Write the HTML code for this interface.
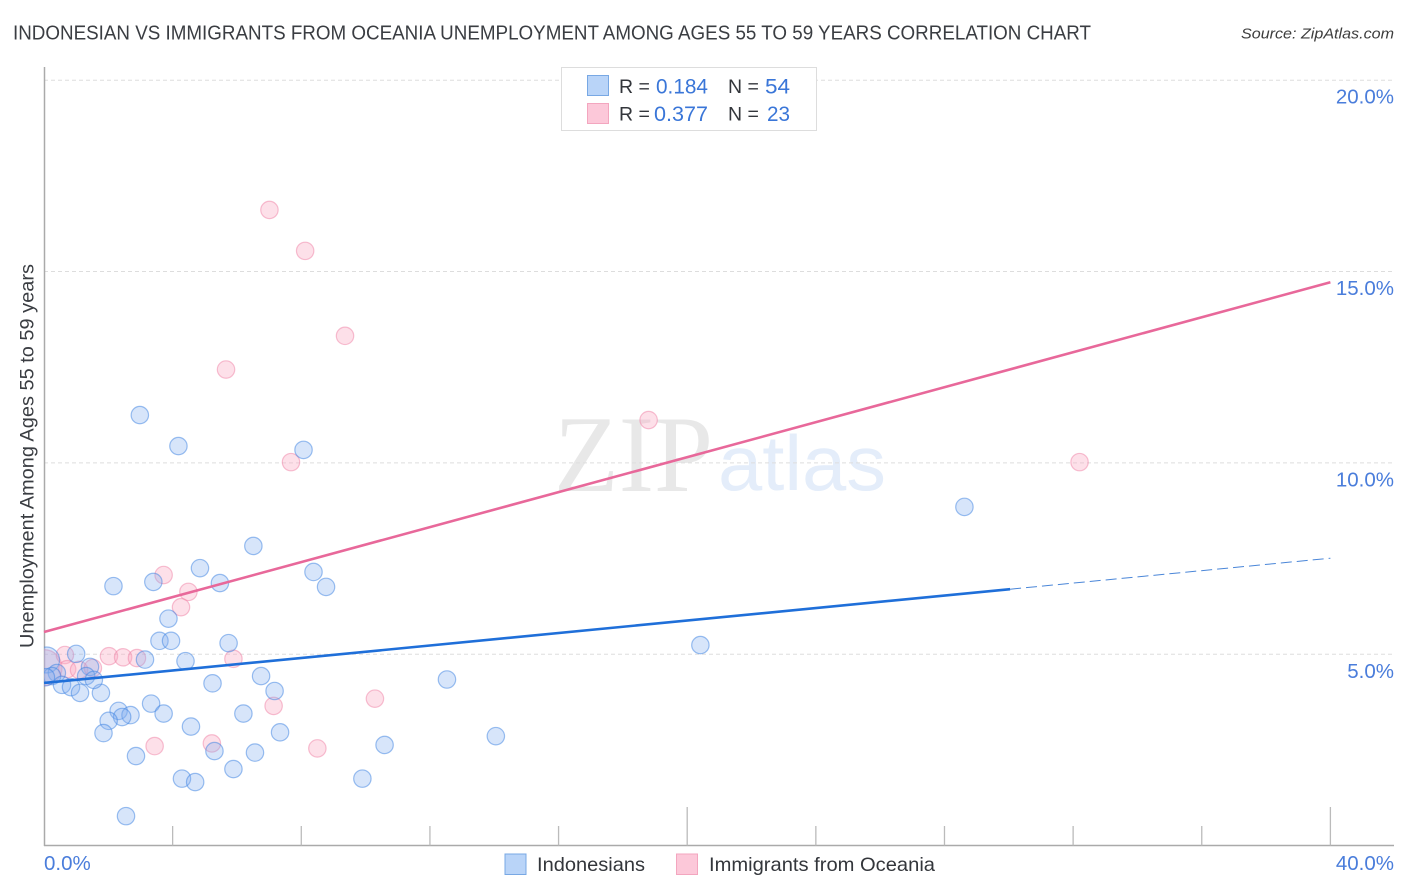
<!DOCTYPE html>
<html lang="en">
<head>
<meta charset="utf-8">
<title>Indonesian vs Immigrants from Oceania Unemployment Correlation Chart</title>
<style>
html,body{margin:0;padding:0;background:#fff;}
svg{display:block;font-family:"Liberation Sans",sans-serif;}
</style>
</head>
<body>
<svg id="chart" xmlns="http://www.w3.org/2000/svg" width="1406" height="892" viewBox="0 0 1406 892">
  <rect x="0" y="0" width="1406" height="892" fill="#ffffff"/>
  <text x="13" y="39.5" font-size="20" fill="#3a3d42" textLength="1078" lengthAdjust="spacingAndGlyphs">INDONESIAN VS IMMIGRANTS FROM OCEANIA UNEMPLOYMENT AMONG AGES 55 TO 59 YEARS CORRELATION CHART</text>
  <text x="1241" y="38.5" font-size="15" font-style="italic" fill="#3d3d3d" textLength="153" lengthAdjust="spacingAndGlyphs">Source: ZipAtlas.com</text>
  <g id="watermark">
    <text x="554" y="491" font-family="'Liberation Serif',serif" font-size="109" fill="#e8e8e8" textLength="159" lengthAdjust="spacingAndGlyphs">ZIP</text>
    <text x="718" y="490" font-size="78" fill="#e4edfa" textLength="168" lengthAdjust="spacingAndGlyphs">atlas</text>
  </g>
  <g id="grid"></g>
  <g id="axes"></g>
  <g id="pink-points"></g>
  <g id="blue-points"></g>
  <g id="trends"></g>
  <text transform="translate(33.5,648) rotate(-90)" x="0" y="0" font-size="19" fill="#3a3d42" textLength="384" lengthAdjust="spacingAndGlyphs">Unemployment Among Ages 55 to 59 years</text>

  <g>
    <rect x="561.5" y="67.5" width="255" height="63" fill="#ffffff" stroke="#dddddd" stroke-width="1"/>
    <rect x="587.5" y="75.5" width="21" height="20" fill="#b9d4f8" stroke="#78a8e4" stroke-width="1"/>
    <rect x="587.5" y="103.5" width="21" height="20" fill="#fcc8d9" stroke="#f3a6bf" stroke-width="1"/>
    <text x="619" y="93" font-size="19.5" fill="#33363b">R =</text>
    <text x="656" y="93.5" font-size="21" fill="#3a76d8" textLength="52" lengthAdjust="spacingAndGlyphs">0.184</text>
    <text x="728" y="93" font-size="19.5" fill="#33363b">N =</text>
    <text x="765" y="93.5" font-size="21" fill="#3a76d8" textLength="25" lengthAdjust="spacingAndGlyphs">54</text>
    <text x="619" y="120.5" font-size="19.5" fill="#33363b">R =</text>
    <text x="654" y="121" font-size="21" fill="#3a76d8" textLength="54" lengthAdjust="spacingAndGlyphs">0.377</text>
    <text x="728" y="120.5" font-size="19.5" fill="#33363b">N =</text>
    <text x="767" y="121" font-size="21" fill="#3a76d8" textLength="23" lengthAdjust="spacingAndGlyphs">23</text>
  </g>

  <g>
    <rect x="505" y="854" width="21" height="20.5" fill="#b9d4f8" stroke="#78a8e4" stroke-width="1"/>
    <text x="537" y="871" font-size="19.5" fill="#33363b" textLength="108" lengthAdjust="spacingAndGlyphs">Indonesians</text>
    <rect x="676.5" y="854" width="21" height="20.5" fill="#fcc8d9" stroke="#f3a6bf" stroke-width="1"/>
    <text x="709" y="871" font-size="19.5" fill="#33363b" textLength="226" lengthAdjust="spacingAndGlyphs">Immigrants from Oceania</text>
  </g>
</svg>
<script>
// Chart data (x: percent Indonesian/immigrant share axis, y: unemployment percent)
var yTickValues = [5, 10, 15, 20];
var yTickLabels = ['5.0%', '10.0%', '15.0%', '20.0%'];
var xTickValues = [0, 4, 8, 12, 16, 20, 24, 28, 32, 36, 40];
var xMajorTicks = [20, 40];
var xEndValues = [0, 40];
var xEndLabels = ['0.0%', '40.0%'];

var indonesiansX = [2.98,4.18,8.07,28.62,6.51,4.85,2.16,3.40,5.47,8.38,8.77,3.87,3.59,3.95,5.74,20.41,3.14,4.40,1.00,1.43,6.75,5.24,12.53,7.17,3.33,3.72,2.32,2.69,2.43,2.01,6.20,4.57,1.85,7.34,10.59,14.05,2.86,5.30,6.56,5.89,4.29,4.70,9.90,2.55,0.40,0.25,0.56,0.84,1.12,1.77,1.31,1.55,0.06];
var indonesiansY = [11.25,10.44,10.34,8.85,7.83,7.25,6.78,6.89,6.86,7.15,6.76,5.93,5.35,5.35,5.29,5.24,4.86,4.82,5.01,4.67,4.43,4.24,4.34,4.04,3.71,3.45,3.52,3.41,3.36,3.26,3.45,3.11,2.94,2.96,2.63,2.86,2.34,2.47,2.43,2.00,1.75,1.66,1.75,0.77,4.51,4.43,4.20,4.14,3.99,3.99,4.43,4.33,4.40];
var oceaniaX = [7.01,8.12,9.36,5.66,7.68,18.80,32.20,3.72,4.49,4.26,5.89,2.02,2.46,2.89,0.65,0.72,1.09,1.52,10.29,7.14,3.44,5.22,8.50];
var oceaniaY = [16.61,15.54,13.32,12.44,10.02,11.12,10.02,7.07,6.63,6.23,4.88,4.95,4.92,4.90,4.98,4.61,4.59,4.64,3.84,3.65,2.60,2.67,2.54];
var indonesiansClusterX = [0.08];
var indonesiansClusterY = [4.85];
var oceaniaClusterX = [0.0];
var oceaniaClusterY = [4.65];

var indonesiansTrendSolidX = [0, 30.04];
var indonesiansTrendSolidY = [4.25, 6.70];
var indonesiansTrendDashX = [30.04, 40];
var indonesiansTrendDashY = [6.70, 7.51];
var oceaniaTrendX = [0, 40];
var oceaniaTrendY = [5.58, 14.72];

function xScale(v) { return 44 + v * 32.16; }
function yScale(v) { return 845.6 - v * 38.27; }

var NS = 'http://www.w3.org/2000/svg';
function make(tag, parentId, attrs) {
  var el = document.createElementNS(NS, tag);
  for (var k in attrs) { el.setAttribute(k, attrs[k]); }
  document.getElementById(parentId).appendChild(el);
  return el;
}

// gridlines + y tick labels
yTickValues.forEach(function (v, i) {
  var line = make('line', 'grid', { x1: 44, x2: 1394, y1: yScale(v), y2: yScale(v), stroke: '#dddddd', 'stroke-width': 1, 'stroke-dasharray': '4 3' });
  
  
  var t = make('text', 'axes', { x: 1394, y: yScale(v) + 23.5, 'text-anchor': 'end', 'font-size': 20.5, fill: '#4a7ddb' });
  t.textContent = yTickLabels[i];
  
  
});

// axes lines
var yAxis = make('line', 'axes', { x1: 44.5, x2: 44.5, y1: 67, y2: 846, stroke: '#aaaaaa', 'stroke-width': 1.5 });


var xAxis = make('line', 'axes', { x1: 44, x2: 1394, y1: 845.5, y2: 845.5, stroke: '#aaaaaa', 'stroke-width': 1.5 });



// x ticks
xTickValues.forEach(function (v) {
  if (v === 0) { return; }
  var major = xMajorTicks.indexOf(v) >= 0;
  var tick = make('line', 'axes', { x1: xScale(v), x2: xScale(v), y1: major ? 807 : 826, y2: 845.5, stroke: '#bbbbbb', 'stroke-width': 1.3 });
  
  
});

// x end labels
xEndValues.forEach(function (v, i) {
  var t = make('text', 'axes', { x: i === 0 ? xScale(v) : 1394, y: 870, 'text-anchor': i === 0 ? 'start' : 'end', 'font-size': 20.5, fill: '#4a7ddb' });
  t.textContent = xEndLabels[i];
  
  
});

// clip region so the big near-axis bubbles stop at the y axis
var defs = document.createElementNS(NS, 'defs');
var clip = document.createElementNS(NS, 'clipPath');
clip.setAttribute('id', 'plot-clip');
var clipRect = document.createElementNS(NS, 'rect');
clipRect.setAttribute('x', 44);
clipRect.setAttribute('y', 60);
clipRect.setAttribute('width', 1350);
clipRect.setAttribute('height', 786);
clip.appendChild(clipRect);
defs.appendChild(clip);
document.getElementById('chart').insertBefore(defs, document.getElementById('chart').firstChild);
document.getElementById('pink-points').setAttribute('clip-path', 'url(#plot-clip)');
document.getElementById('blue-points').setAttribute('clip-path', 'url(#plot-clip)');

var pinkStyle = { fill: 'rgba(250,170,195,0.36)', stroke: 'rgba(240,130,165,0.5)', 'stroke-width': 1.2 };
var blueStyle = { fill: 'rgba(130,175,240,0.32)', stroke: 'rgba(60,130,225,0.5)', 'stroke-width': 1.2 };

function attrsFor(style, cx, cy, r) {
  var a = { cx: cx, cy: cy, r: r };
  for (var k in style) { a[k] = style[k]; }
  return a;
}

oceaniaClusterX.forEach(function (v, i) {
  var c = make('circle', 'pink-points', attrsFor(pinkStyle, xScale(v), yScale(oceaniaClusterY[i]), 18));
  
  
});
oceaniaX.forEach(function (v, i) {
  var c = make('circle', 'pink-points', attrsFor(pinkStyle, xScale(v), yScale(oceaniaY[i]), 8.7));
  
  
});
indonesiansClusterX.forEach(function (v, i) {
  var c = make('circle', 'blue-points', attrsFor(blueStyle, xScale(v), yScale(indonesiansClusterY[i]), 13));
  
  
});
indonesiansX.forEach(function (v, i) {
  var c = make('circle', 'blue-points', attrsFor(blueStyle, xScale(v), yScale(indonesiansY[i]), 8.7));
  
  
});

var oceaniaLine = make('line', 'trends', { x1: xScale(oceaniaTrendX[0]), y1: yScale(oceaniaTrendY[0]), x2: xScale(oceaniaTrendX[1]), y2: yScale(oceaniaTrendY[1]), stroke: '#e8689a', 'stroke-width': 2.6 });


var blueLine = make('line', 'trends', { x1: xScale(indonesiansTrendSolidX[0]), y1: yScale(indonesiansTrendSolidY[0]), x2: xScale(indonesiansTrendSolidX[1]), y2: yScale(indonesiansTrendSolidY[1]), stroke: '#1f6fd9', 'stroke-width': 2.6 });


var blueDash = make('line', 'trends', { x1: xScale(indonesiansTrendDashX[0]), y1: yScale(indonesiansTrendDashY[0]), x2: xScale(indonesiansTrendDashX[1]), y2: yScale(indonesiansTrendDashY[1]), stroke: '#4a86d8', 'stroke-width': 1, 'stroke-dasharray': '11 5' });


</script>
</body>
</html>
